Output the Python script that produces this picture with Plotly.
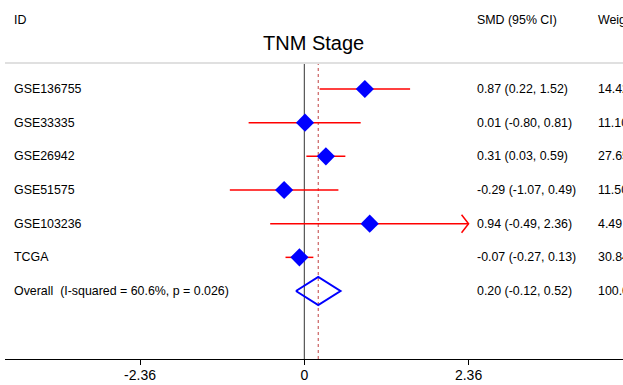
import plotly.graph_objects as go

# ---- data ----
studies = ["GSE136755", "GSE33335", "GSE26942", "GSE51575", "GSE103236", "TCGA"]
smd = [0.87, 0.01, 0.31, -0.29, 0.94, -0.07]
ci_low = [0.22, -0.80, 0.03, -1.07, -0.49, -0.27]
ci_high = [1.52, 0.81, 0.59, 0.49, 2.36, 0.13]
weights = ["14.42", "11.10", "27.65", "11.50", "4.49", "30.84"]
overall_label = "Overall  (I-squared = 60.6%, p = 0.026)"
overall_smd = 0.20
overall_low = -0.12
overall_high = 0.52
overall_weight = "100.00"
tick_vals = [-2.36, 0, 2.36]
tick_text = ["-2.36", "0", "2.36"]
axis_max = 2.36

W, H = 623, 385
FONT = "Liberation Sans, Arial, sans-serif"
FS = 12.4

# layout geometry (pixels)
px_zero = 304.3
px_per_unit = 69.6
plot_left = 5
plot_top = 63
plot_bottom = 359
row_first = 89
row_step = 33.67

x_range = [(plot_left - px_zero) / px_per_unit, (W - px_zero) / px_per_unit]
y_top = 1 - (row_first - plot_top) / row_step
y_bot = 1 + (plot_bottom - row_first) / row_step

rows = list(range(1, len(studies) + 1))
overall_row = len(studies) + 1

fig = go.Figure()

# CI lines
for i, (lo, hi) in enumerate(zip(ci_low, ci_high)):
    hi_c = min(hi, axis_max)
    fig.add_trace(go.Scatter(x=[lo, hi_c], y=[rows[i], rows[i]], mode="lines",
                             line=dict(color="#ff0000", width=1.5),
                             hoverinfo="skip", showlegend=False))
    if hi >= axis_max:
        dx = 7 / px_per_unit
        dy = 9 / row_step
        fig.add_trace(go.Scatter(x=[axis_max - dx, axis_max, axis_max - dx],
                                 y=[rows[i] - dy, rows[i], rows[i] + dy],
                                 mode="lines", line=dict(color="#ff0000", width=1.5),
                                 hoverinfo="skip", showlegend=False))

# point estimates
fig.add_trace(go.Scatter(x=smd, y=rows, mode="markers",
                         marker=dict(symbol="diamond", size=14, color="#0000ff",
                                     line=dict(width=0)),
                         hoverinfo="skip", showlegend=False))

# overall diamond
hh = 14 / row_step
fig.add_trace(go.Scatter(
    x=[overall_low, overall_smd, overall_high, overall_smd, overall_low],
    y=[overall_row, overall_row - hh, overall_row, overall_row + hh, overall_row],
    mode="lines", line=dict(color="#0000ff", width=2),
    hoverinfo="skip", showlegend=False))

dom_x = [plot_left / W, 1]
dom_y = [(H - plot_bottom) / H, (H - plot_top) / H]

shapes = [
    dict(type="line", xref="x", yref="paper", x0=0, x1=0, y0=dom_y[0], y1=dom_y[1],
         line=dict(color="#333333", width=1), layer="below"),
    dict(type="line", xref="x", yref="paper", x0=overall_smd, x1=overall_smd,
         y0=dom_y[0], y1=dom_y[1], line=dict(color="#c04040", width=1, dash="3px,3px"),
         layer="below"),
    dict(type="line", xref="paper", yref="paper", x0=plot_left / W, x1=1,
         y0=dom_y[1], y1=dom_y[1], line=dict(color="#e0e0e0", width=2)),
]

annotations = []


def txt(xpx, ypx, text, size=FS, anchor="left"):
    annotations.append(dict(xref="paper", yref="paper", x=xpx / W, y=1 - ypx / H,
                            text=text, showarrow=False, xanchor=anchor, yanchor="middle",
                            font=dict(family=FONT, size=size, color="black")))


def rowtxt(xpx, row, text, size=FS):
    annotations.append(dict(xref="paper", yref="y", x=xpx / W, y=row,
                            text=text, showarrow=False, xanchor="left", yanchor="middle",
                            font=dict(family=FONT, size=size, color="black")))


txt(12, 20, "ID")
txt(475, 20, "SMD (95% CI)")
txt(596, 20, "Weight")
txt(313.5, 43, "TNM Stage", size=20, anchor="center")

for i, s in enumerate(studies):
    rowtxt(12, rows[i], s)
    rowtxt(475, rows[i], f"{smd[i]:.2f} ({ci_low[i]:.2f}, {ci_high[i]:.2f})")
    rowtxt(596, rows[i], weights[i])
rowtxt(12, overall_row, overall_label)
rowtxt(475, overall_row, f"{overall_smd:.2f} ({overall_low:.2f}, {overall_high:.2f})")
rowtxt(596, overall_row, overall_weight)

fig.update_layout(
    width=W, height=H,
    margin=dict(l=0, r=0, t=0, b=0),
    paper_bgcolor="white", plot_bgcolor="white",
    shapes=shapes, annotations=annotations,
    xaxis=dict(domain=dom_x, range=x_range, showgrid=False, zeroline=False,
               showline=True, linecolor="black", linewidth=1,
               ticks="outside", ticklen=5, tickcolor="black",
               tickvals=tick_vals, ticktext=tick_text, ticklabelstandoff=-2,
               tickfont=dict(family=FONT, size=14, color="black")),
    yaxis=dict(domain=dom_y, range=[y_bot, y_top], showgrid=False, zeroline=False,
               showline=False, showticklabels=False, ticks=""),
)

fig.write_html("out.html")
